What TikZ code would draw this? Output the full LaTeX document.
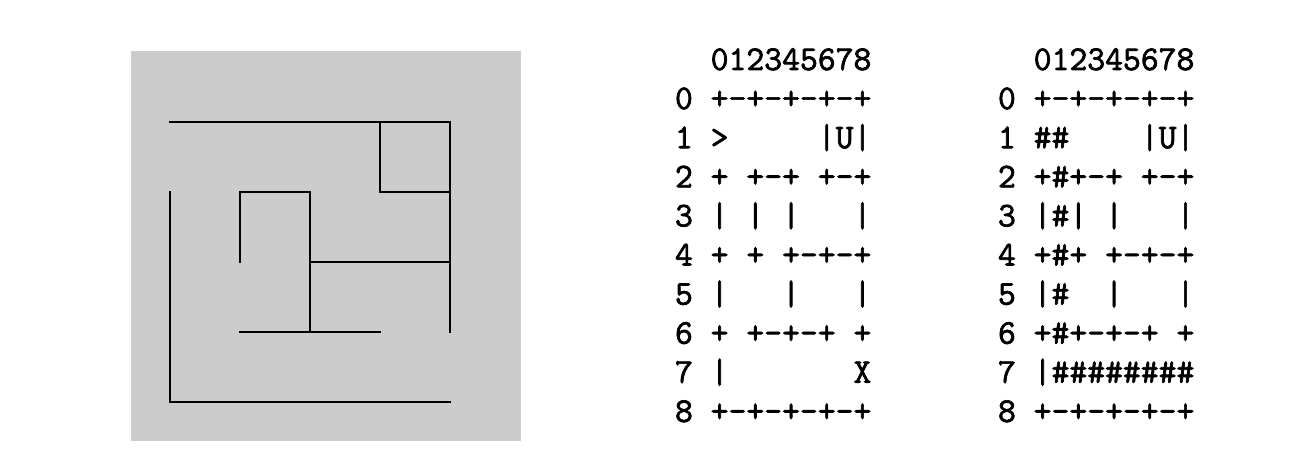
\documentclass[tikz,border=0pt]{standalone}
\usepackage{fontspec}
\newfontfamily\gridtt{Latin Modern Mono}[FakeBold=2]
\begin{document}
\begin{tikzpicture}[x=0.75pt,y=-0.75pt,
  wall/.style={line width=1.2pt,line cap=rect,line join=miter},
  txt/.style={anchor=base west,inner sep=0pt,outer sep=0pt,font=\fontsize{26}{30}\selectfont\gridtt}]
\useasboundingbox (0,0) rectangle (1316,466);
\fill[white] (0,0) rectangle (1316,466);
\fill[fill={rgb,255:red,204;green,204;blue,204}] (131,51) rectangle (521,441);
% maze grid: x = 170 + 70 i, y = 122 + 70 j
\begin{scope}[shift={(170,122)},x=52.5pt,y=-52.5pt]
\draw[wall] (0,0) -- (4,0);
\draw[wall] (3,0) -- (3,1) -- (4,1);
\draw[wall] (4,0) -- (4,3);
\draw[wall] (0,1) -- (0,4) -- (4,4);
\draw[wall] (1,2) -- (1,1) -- (2,1) -- (2,3);
\draw[wall] (2,2) -- (4,2);
\draw[wall] (1,3) -- (3,3);
\end{scope}
% first grid
\node[txt] (ah) at (675,70) {~~012345678};
\node[txt] (a0) at (675,109.1) {0~+-+-+-+-+};
\node[txt] (a1) at (675,148.2) {1~>~~~~~|U|};
\node[txt] (a2) at (675,187.3) {2~+~+-+~+-+};
\node[txt] (a3) at (675,226.4) {3~|~|~|~~~|};
\node[txt] (a4) at (675,265.5) {4~+~+~+-+-+};
\node[txt] (a5) at (675,304.6) {5~|~~~|~~~|};
\node[txt] (a6) at (675,343.7) {6~+~+-+-+~+};
\node[txt] (a7) at (675,382.8) {7~|~~~~~~~X};
\node[txt] (a8) at (675,421.9) {8~+-+-+-+-+};
% second grid
\node[txt] (bh) at (998,70) {~~012345678};
\node[txt] (b0) at (998,109.1) {0~+-+-+-+-+};
\node[txt] (b1) at (998,148.2) {1~\#\#~~~~|U|};
\node[txt] (b2) at (998,187.3) {2~+\#+-+~+-+};
\node[txt] (b3) at (998,226.4) {3~|\#|~|~~~|};
\node[txt] (b4) at (998,265.5) {4~+\#+~+-+-+};
\node[txt] (b5) at (998,304.6) {5~|\#~~|~~~|};
\node[txt] (b6) at (998,343.7) {6~+\#+-+-+~+};
\node[txt] (b7) at (998,382.8) {7~|\#\#\#\#\#\#\#\#};
\node[txt] (b8) at (998,421.9) {8~+-+-+-+-+};
\end{tikzpicture}
\end{document}
